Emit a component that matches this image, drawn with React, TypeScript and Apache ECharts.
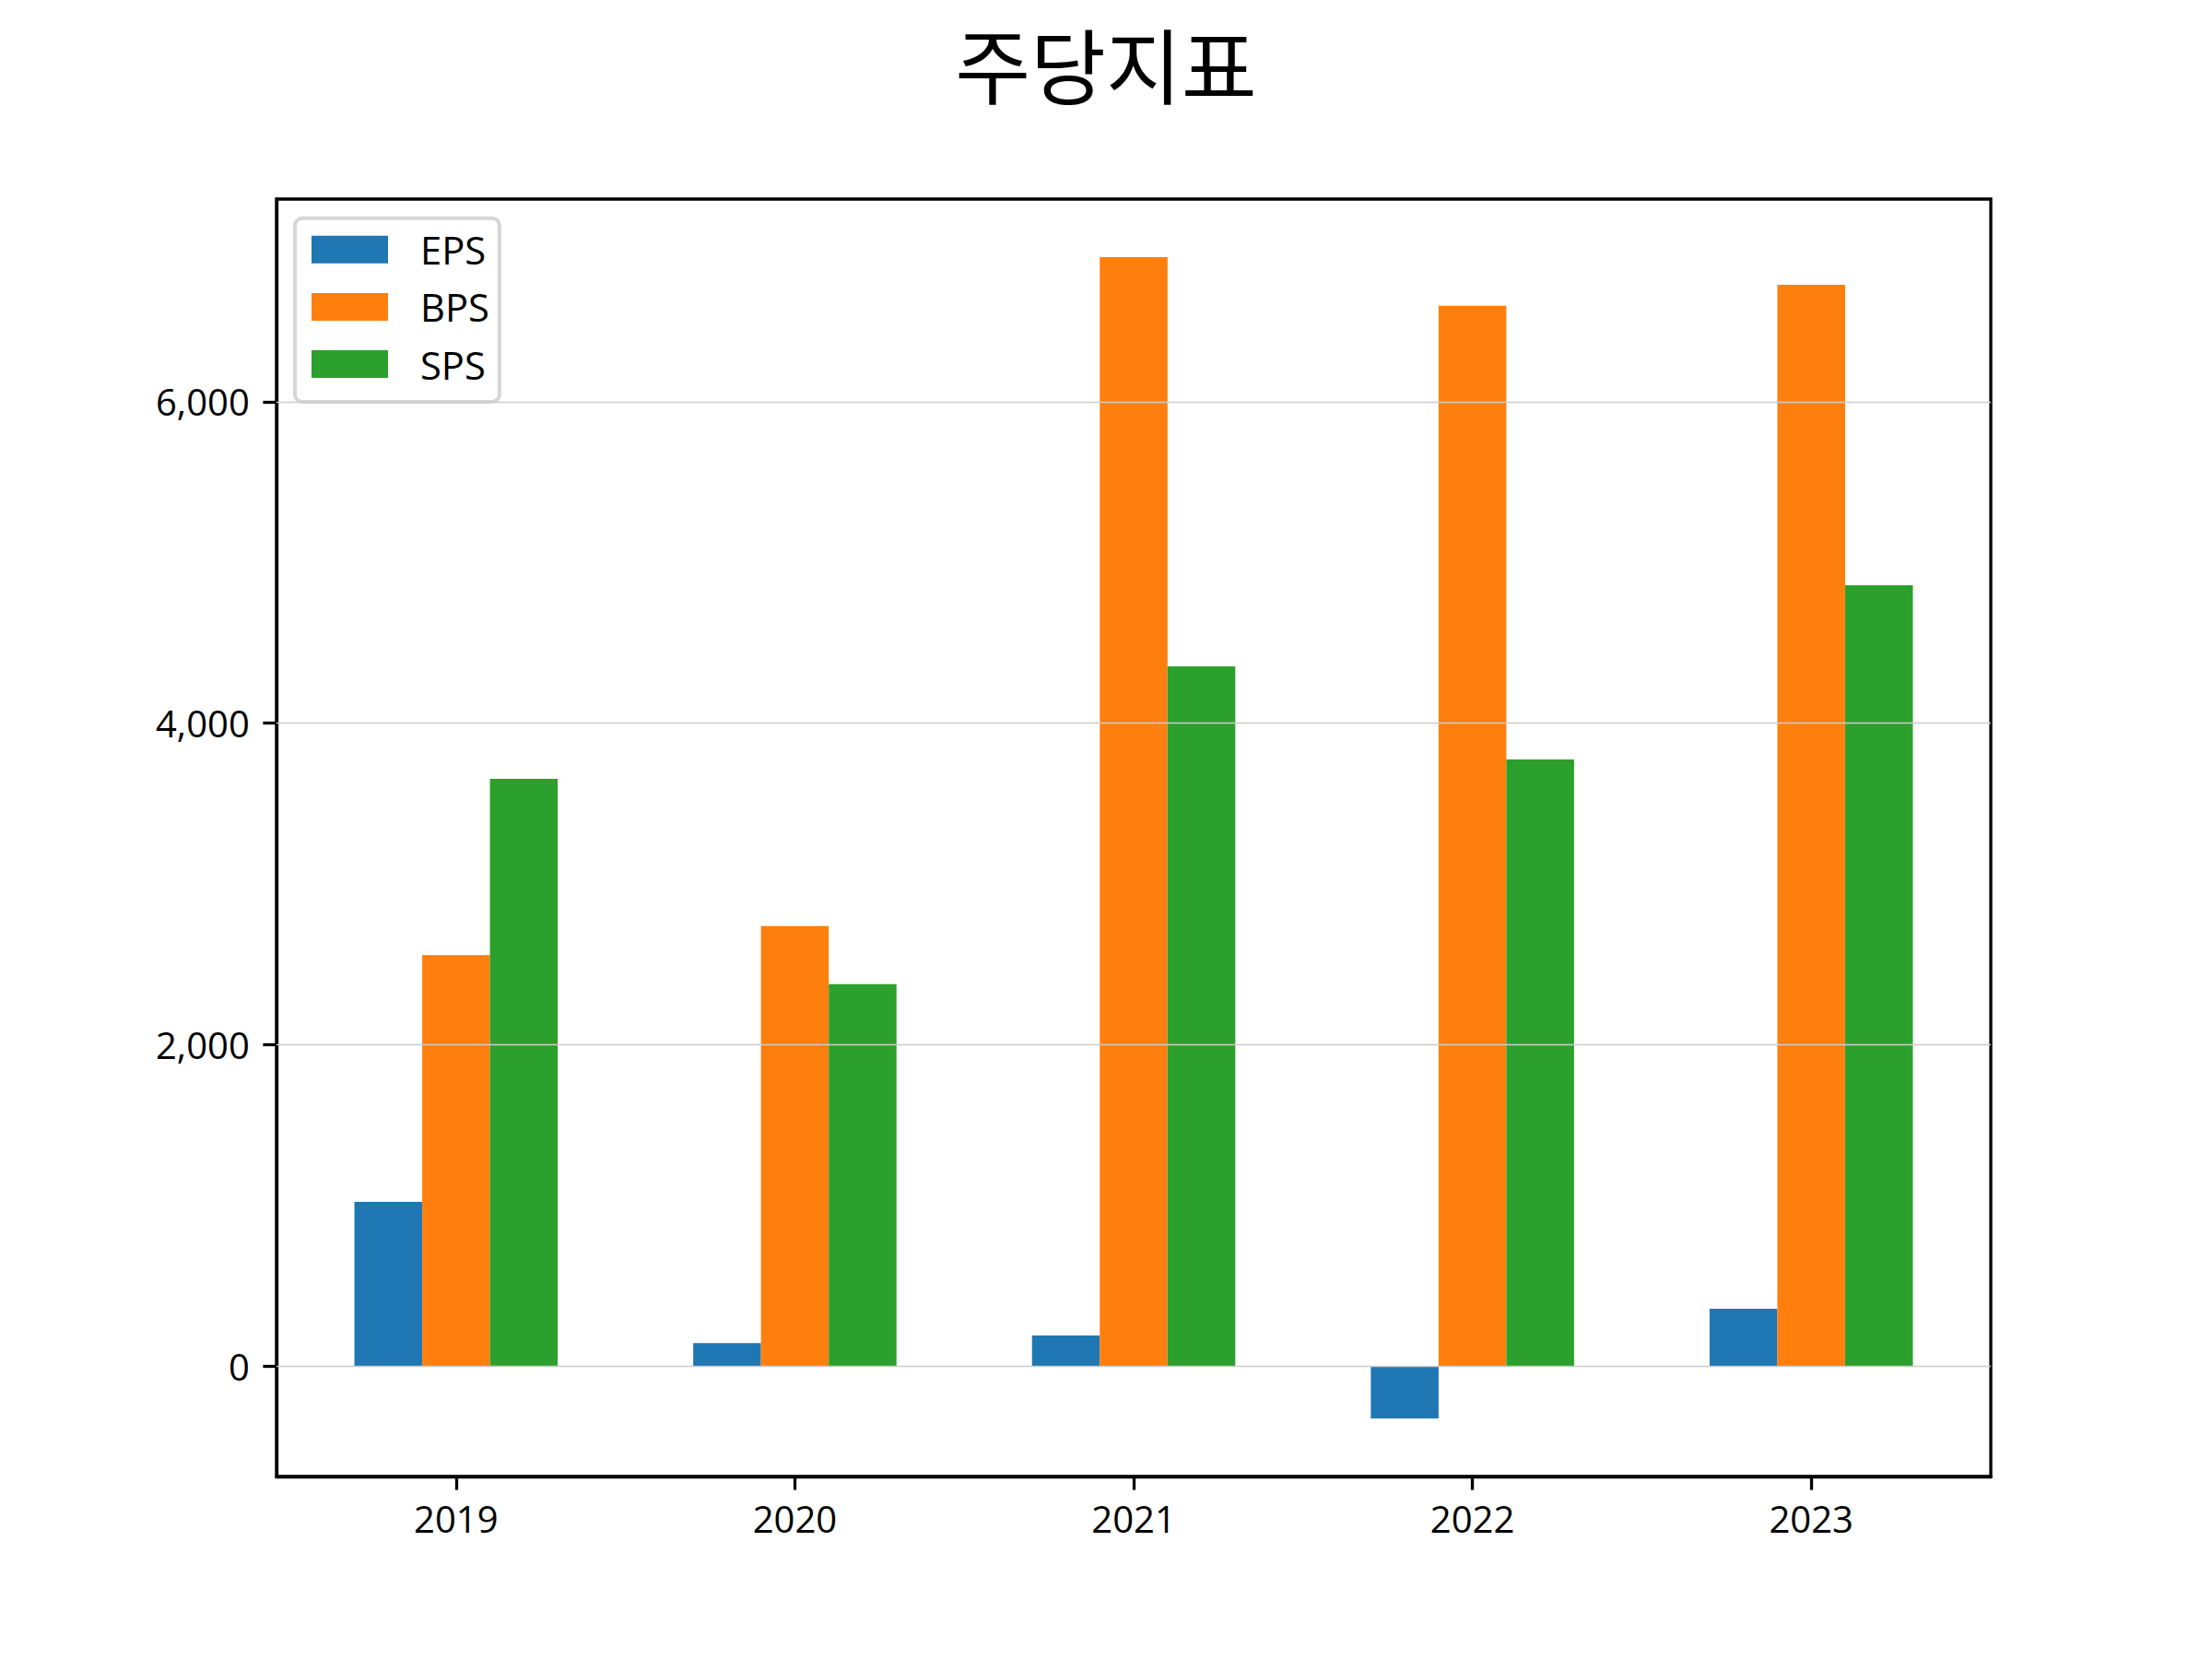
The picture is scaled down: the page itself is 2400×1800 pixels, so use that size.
import React, { useEffect, useRef } from "react";
import * as echarts from "echarts";

const titleText = "주당지표";
const years = ["2019", "2020", "2021", "2022", "2023"];
const seriesNames = ["EPS", "BPS", "SPS"];
const epsValues = [1022, 144, 191, -325, 357];
const bpsValues = [2558, 2738, 6900, 6597, 6728];
const spsValues = [3654, 2377, 4354, 3775, 4859];
const yTickValues = [0, 2000, 4000, 6000];
const colors = ["#1f77b4", "#ff7f0e", "#2ca02c"];

export default function App() {
  const ref = useRef<HTMLDivElement>(null);

  useEffect(() => {
    document.body.style.margin = "0";
    const chart = echarts.init(ref.current!, null, { renderer: "svg" });

    const allSeries = [epsValues, bpsValues, spsValues];
    const barFrac = 0.2;
    const n = years.length;
    // matplotlib-like data limits with 5% margins
    const xLo = -1.5 * barFrac;
    const xHi = n - 1 + 1.5 * barFrac;
    const xPad = (xHi - xLo) * 0.05;
    const xMin = xLo - xPad;
    const xMax = xHi + xPad;
    const flat = allSeries.flat();
    const yLo = Math.min(0, ...flat);
    const yHi = Math.max(0, ...flat);
    const yPad = (yHi - yLo) * 0.05;
    const yMin = yLo - yPad;
    const yMax = yHi + yPad;

    const gridLeft = 300;
    const gridTop = 216;
    const gridWidth = 1860;
    const gridHeight = 1386;
    const pxPerUnit = gridWidth / (xMax - xMin);
    const barWidth = barFrac * pxPerUnit;

    const tickLen = 14.6;
    const axisW = 3.3;
    const font = "Open Sans";

    const series: any[] = allSeries.map((vals, si) => ({
      name: seriesNames[si],
      type: "bar",
      data: vals.map((v, i) => [i, v]),
      barWidth,
      barGap: "0%",
      itemStyle: { color: colors[si] },
      emphasis: { disabled: true },
    }));
    series[2].markLine = {
      silent: true,
      symbol: ["none", "none"],
      label: { show: false },
      lineStyle: { color: "#cccccc", width: 1.4, type: "solid" },
      data: yTickValues.map((v) => ({ yAxis: v })),
      animation: false,
    };

    chart.setOption({
      animation: false,
      backgroundColor: "#ffffff",
      graphic: [
        {
          type: "text",
          x: 1200,
          y: 67,
          style: {
            text: titleText,
            fontFamily: "Noto Sans CJK KR",
            fontSize: 89,
            fill: "#000",
            align: "center",
            verticalAlign: "middle",
          },
        },
      ],
      grid: {
        left: gridLeft,
        top: gridTop,
        width: gridWidth,
        height: gridHeight,
        show: true,
        borderColor: "#000",
        borderWidth: axisW,
        backgroundColor: "transparent",
      },
      legend: {
        data: seriesNames,
        orient: "vertical",
        left: 320,
        top: 236.7,
        padding: [13, 11, 20, 18],
        itemWidth: 83,
        itemHeight: 30,
        itemGap: 20.2,
        icon: "rect",
        borderColor: "#d6d6d6",
        borderWidth: 4,
        borderRadius: 8,
        backgroundColor: "#ffffff",
        selectedMode: false,
        textStyle: {
          fontFamily: font,
          fontSize: 41.7,
          color: "#000",
          padding: [0, 0, 0, 30],
        },
      },
      xAxis: {
        type: "value",
        min: xMin,
        max: xMax,
        axisLine: { show: true, onZero: false, lineStyle: { color: "#000", width: axisW } },
        axisTick: {
          show: true,
          inside: false,
          length: tickLen,
          customValues: years.map((_, i) => i),
          lineStyle: { color: "#000", width: axisW },
        },
        axisLabel: {
          customValues: years.map((_, i) => i),
          formatter: (v: number) => years[Math.round(v)] ?? "",
          fontFamily: font,
          fontSize: 40,
          color: "#000",
          margin: tickLen * 2 - 4,
        },
        splitLine: { show: false },
      },
      yAxis: {
        type: "value",
        min: yMin,
        max: yMax,
        axisLine: { show: true, onZero: false, lineStyle: { color: "#000", width: axisW } },
        axisTick: {
          show: true,
          inside: false,
          length: tickLen,
          customValues: yTickValues,
          lineStyle: { color: "#000", width: axisW },
        },
        axisLabel: {
          customValues: yTickValues,
          formatter: (v: number) => Math.round(v).toLocaleString("en-US"),
          fontFamily: font,
          fontSize: 40,
          color: "#000",
          margin: tickLen * 2,
        },
        splitLine: { show: false },
      },
      series,
    });

    return () => chart.dispose();
  }, []);

  return <div ref={ref} style={{ width: 2400, height: 1800, background: "#fff" }} />;
}
